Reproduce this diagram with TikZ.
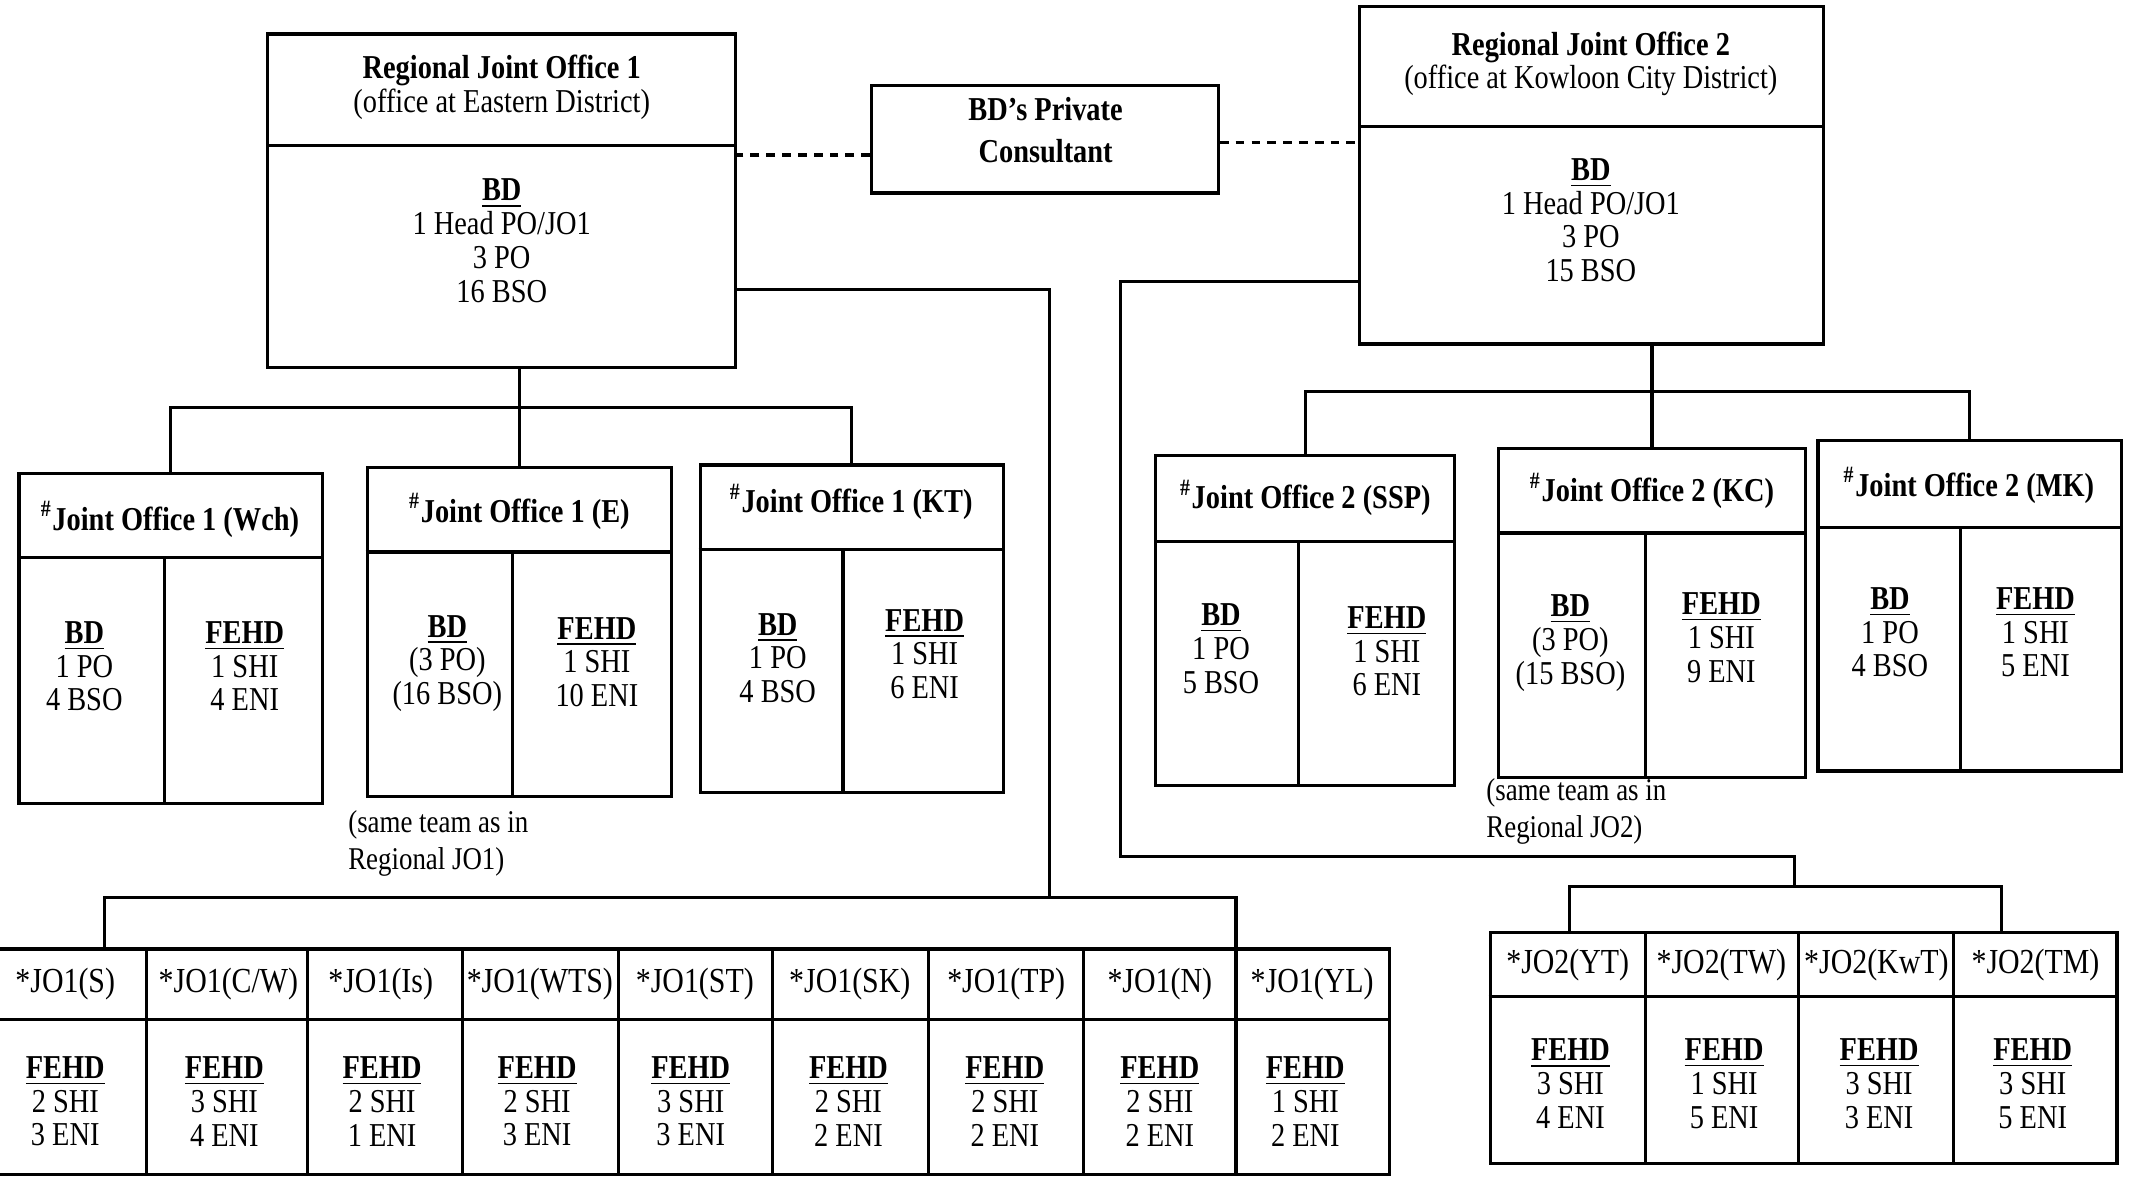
\documentclass[tikz,border=0pt]{standalone}
\usepackage{fontspec}
\setmainfont{Liberation Serif}[FakeStretch=0.85]
\usepackage{tikz}
\usetikzlibrary{positioning, calc, fit}

\begin{document}
\begin{tikzpicture}[x=0.0136cm, y=-0.0136cm, line width=0.9pt,
  frame/.style={draw, inner sep=0pt},
  txt/.style={align=center, inner sep=0pt, font=\fontsize{9.5}{9.6}\selectfont},
  ttl/.style={align=center, inner sep=0pt, font=\fontsize{9.5}{12}\selectfont\bfseries},
  hdr/.style={inner sep=0pt, font=\fontsize{10}{12}\selectfont},
  note/.style={align=left, anchor=west, inner sep=0pt, font=\fontsize{9}{10.5}\selectfont},
  link/.style={dash pattern=on 2.5pt off 2pt}]
\useasboundingbox (0,0) rectangle (1568,874);

% Regional joint offices
\node[frame, fit={(197,25) (541,270)}] (rjo1) {};
\draw (rjo1.west |- 0,107) -- (rjo1.east |- 0,107);
\node[txt] (rjo1t) at (369,64) {\textbf{Regional Joint Office 1}\\(office at Eastern District)};
\node[txt] (rjo1b) at (369,177) {\underline{\textbf{BD}}\\1 Head PO/JO1\\3 PO\\16 BSO};

\node[frame, fit={(641,63) (896,142)}] (cons) {};
\node[txt, font=\fontsize{9.5}{12}\selectfont\bfseries] (const) at (769,96) {BD's Private\\Consultant};

\node[frame, fit={(1000,5) (1341,253)}] (rjo2) {};
\draw (rjo2.west |- 0,93) -- (rjo2.east |- 0,93);
\node[txt] (rjo2t) at (1170,47) {\textbf{Regional Joint Office 2}\\(office at Kowloon City District)};
\node[txt] (rjo2b) at (1170,162) {\underline{\textbf{BD}}\\1 Head PO/JO1\\3 PO\\15 BSO};

\draw[link] (cons.west |- 0,114) -- (rjo1.east |- 0,114);
\draw[link] (cons.east |- 0,105) -- (rjo2.west |- 0,105);

% Joint offices under JO1
\node[frame, fit={(14,348) (237,591)}] (jwch) {};
\draw (jwch.west |- 0,410) -- (jwch.east |- 0,410);
\draw (121,410) -- (jwch.south -| 121,0);
\node[ttl] (jwcht) at (125,382) {\textsuperscript{\#}Joint Office 1 (Wch)};
\node[txt] (jwchb) at (62,490) {\underline{\textbf{BD}}\\1 PO\\4 BSO};
\node[txt] (jwchf) at (180,490) {\underline{\textbf{FEHD}}\\1 SHI\\4 ENI};

\node[frame, fit={(270,344) (494,586)}] (je) {};
\draw (je.west |- 0,406) -- (je.east |- 0,406);
\draw (377,406) -- (je.south -| 377,0);
\node[ttl] (jet) at (382,376) {\textsuperscript{\#}Joint Office 1 (E)};
\node[txt] (jeb) at (329,488) {\underline{\textbf{BD}}\\(3 PO)\\(16 BSO)};
\node[txt] (jef) at (439,487) {\underline{\textbf{FEHD}}\\1 SHI\\10 ENI};
\node[note] (jen) at (255,620) {(same team as in\\Regional JO1)};

\node[frame, fit={(515,342) (738,583)}] (jkt) {};
\draw (jkt.west |- 0,404) -- (jkt.east |- 0,404);
\draw (620,404) -- (jkt.south -| 620,0);
\node[ttl] (jktt) at (626,369) {\textsuperscript{\#}Joint Office 1 (KT)};
\node[txt] (jktb) at (572,484) {\underline{\textbf{BD}}\\1 PO\\4 BSO};
\node[txt] (jktf) at (680,481) {\underline{\textbf{FEHD}}\\1 SHI\\6 ENI};

% Joint offices under JO2
\node[frame, fit={(850,335) (1070,578)}] (jssp) {};
\draw (jssp.west |- 0,398) -- (jssp.east |- 0,398);
\draw (955,398) -- (jssp.south -| 955,0);
\node[ttl] (jsspt) at (960,366) {\textsuperscript{\#}Joint Office 2 (SSP)};
\node[txt] (jsspb) at (898,477) {\underline{\textbf{BD}}\\1 PO\\5 BSO};
\node[txt] (jsspf) at (1020,479) {\underline{\textbf{FEHD}}\\1 SHI\\6 ENI};

\node[frame, fit={(1102,330) (1328,572)}] (jkc) {};
\draw (jkc.west |- 0,392) -- (jkc.east |- 0,392);
\draw (1210,392) -- (jkc.south -| 1210,0);
\node[ttl] (jkct) at (1215,361) {\textsuperscript{\#}Joint Office 2 (KC)};
\node[txt] (jkcb) at (1155,473) {\underline{\textbf{BD}}\\(3 PO)\\(15 BSO)};
\node[txt] (jkcf) at (1266,469) {\underline{\textbf{FEHD}}\\1 SHI\\9 ENI};
\node[note] (jkcn) at (1092,597) {(same team as in\\Regional JO2)};

\node[frame, fit={(1337,324) (1560,567)}] (jmk) {};
\draw (jmk.west |- 0,388) -- (jmk.east |- 0,388);
\draw (1442,388) -- (jmk.south -| 1442,0);
\node[ttl] (jmkt) at (1448,357) {\textsuperscript{\#}Joint Office 2 (MK)};
\node[txt] (jmkb) at (1390,465) {\underline{\textbf{BD}}\\1 PO\\4 BSO};
\node[txt] (jmkf) at (1497,465) {\underline{\textbf{FEHD}}\\1 SHI\\5 ENI};

% District teams of JO1
\node[frame, fit={(-40,698) (1022,864)}] (jo1row) {};
\draw (jo1row.west |- 0,750) -- (jo1row.east |- 0,750);
\draw (108,698) -- (108,864) (226,698) -- (226,864) (340,698) -- (340,864)
      (455,698) -- (455,864) (568,698) -- (568,864) (683,698) -- (683,864)
      (797,698) -- (797,864) (909,698) -- (909,864);
\node[hdr] (s1h) at (48,724) {*JO1(S)};
\node[hdr] (s2h) at (168,724) {*JO1(C/W)};
\node[hdr] (s3h) at (280,724) {*JO1(Is)};
\node[hdr] (s4h) at (397,724) {*JO1(WTS)};
\node[hdr] (s5h) at (511,724) {*JO1(ST)};
\node[hdr] (s6h) at (625,724) {*JO1(SK)};
\node[hdr] (s7h) at (740,724) {*JO1(TP)};
\node[hdr] (s8h) at (853,724) {*JO1(N)};
\node[hdr] (s9h) at (965,724) {*JO1(YL)};
\node[txt] (s1f) at (48,810) {\underline{\textbf{FEHD}}\\2 SHI\\3 ENI};
\node[txt] (s2f) at (165,810) {\underline{\textbf{FEHD}}\\3 SHI\\4 ENI};
\node[txt] (s3f) at (281,810) {\underline{\textbf{FEHD}}\\2 SHI\\1 ENI};
\node[txt] (s4f) at (395,810) {\underline{\textbf{FEHD}}\\2 SHI\\3 ENI};
\node[txt] (s5f) at (508,810) {\underline{\textbf{FEHD}}\\3 SHI\\3 ENI};
\node[txt] (s6f) at (624,810) {\underline{\textbf{FEHD}}\\2 SHI\\2 ENI};
\node[txt] (s7f) at (739,810) {\underline{\textbf{FEHD}}\\2 SHI\\2 ENI};
\node[txt] (s8f) at (853,810) {\underline{\textbf{FEHD}}\\2 SHI\\2 ENI};
\node[txt] (s9f) at (960,810) {\underline{\textbf{FEHD}}\\1 SHI\\2 ENI};

% District teams of JO2
\node[frame, fit={(1096,686) (1557,856)}] (jo2row) {};
\draw (jo2row.west |- 0,733) -- (jo2row.east |- 0,733);
\draw (1210,686) -- (1210,856) (1323,686) -- (1323,856) (1437,686) -- (1437,856);
\node[hdr] (t1h) at (1153,710) {*JO2(YT)};
\node[hdr] (t2h) at (1266,710) {*JO2(TW)};
\node[hdr] (t3h) at (1380,710) {*JO2(KwT)};
\node[hdr] (t4h) at (1497,710) {*JO2(TM)};
\node[txt] (t1f) at (1155,797) {\underline{\textbf{FEHD}}\\3 SHI\\4 ENI};
\node[txt] (t2f) at (1268,797) {\underline{\textbf{FEHD}}\\1 SHI\\5 ENI};
\node[txt] (t3f) at (1382,797) {\underline{\textbf{FEHD}}\\3 SHI\\3 ENI};
\node[txt] (t4f) at (1495,797) {\underline{\textbf{FEHD}}\\3 SHI\\5 ENI};

% Connectors
\coordinate (b1) at (0,300);
\draw (rjo1.south -| je.north) -- (je.north);
\draw (jwch.north) |- (b1 -| jkt.north) -- (jkt.north);

\coordinate (b2) at (0,288);
\draw (rjo2.south -| jkc.north) -- (jkc.north);
\draw (jssp.north) |- (b2 -| jmk.north) -- (jmk.north);

\coordinate (k1) at (772,213);
\coordinate (k2) at (772,660);
\coordinate (d1) at (77,0);
\coordinate (d2) at (909,0);
\draw (rjo1.east |- k1) -- (k1) -- (k2);
\draw (jo1row.north -| d1) |- (k2) -| (jo1row.north -| d2);

\coordinate (m1) at (824,207);
\coordinate (m2) at (824,630);
\coordinate (m3) at (1320,630);
\coordinate (m4) at (1320,652);
\coordinate (e1) at (1154,0);
\coordinate (e2) at (1472,0);
\draw (rjo2.west |- m1) -- (m1) -- (m2) -- (m3) -- (m4);
\draw (jo2row.north -| e1) |- (m4) -| (jo2row.north -| e2);
\end{tikzpicture}
\end{document}
